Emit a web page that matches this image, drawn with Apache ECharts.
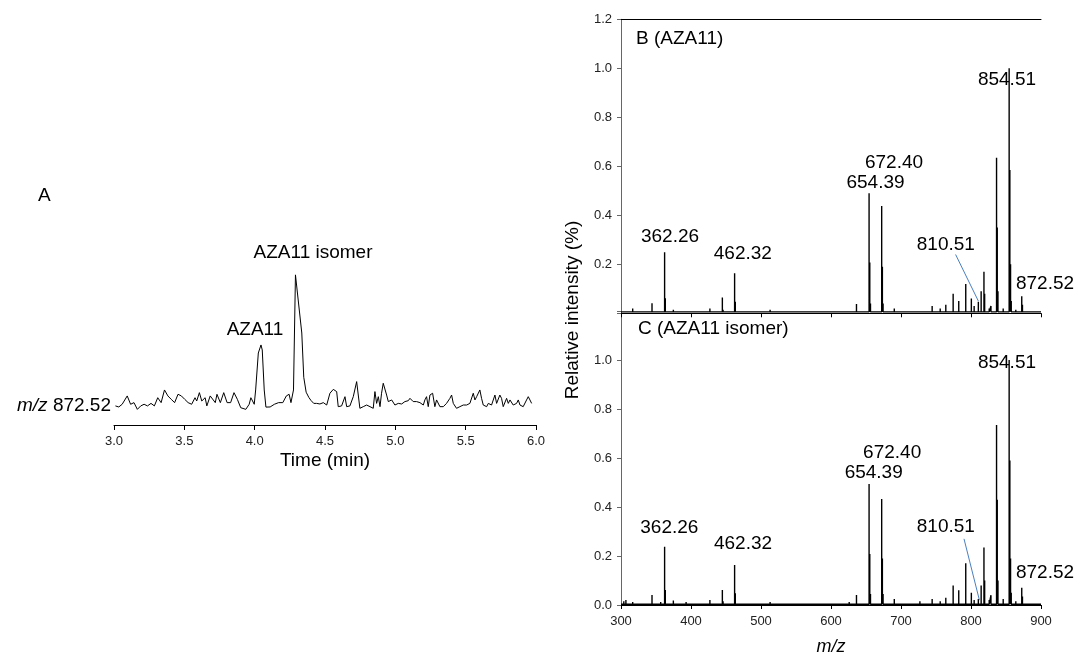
<!DOCTYPE html>
<html>
<head>
<meta charset="utf-8">
<script src="https://cdn.jsdelivr.net/npm/echarts@6/dist/echarts.min.js"></script>
<style>
  html, body { margin: 0; padding: 0; background: #fff; }
  #chart { width: 1076px; height: 661px; }
</style>
</head>
<body>
<div id="chart"></div>
<script>
// A: extracted ion chromatogram, m/z 872.52 (time in min, relative intensity)
const timeA = [
  3.010, 3.034, 3.058, 3.094, 3.118, 3.142, 3.166, 3.190, 3.214, 3.238,
  3.263, 3.287, 3.311, 3.335, 3.359, 3.383, 3.407, 3.431, 3.455, 3.479,
  3.503, 3.527, 3.552, 3.576, 3.588, 3.607, 3.624, 3.648, 3.660, 3.684,
  3.696, 3.720, 3.732, 3.756, 3.780, 3.804, 3.829, 3.853, 3.877, 3.901,
  3.937, 3.961, 3.973, 3.997, 4.007, 4.026, 4.045, 4.054, 4.068, 4.080,
  4.110, 4.140, 4.170, 4.200, 4.225, 4.245, 4.258, 4.276, 4.290, 4.335,
  4.349, 4.366, 4.385, 4.400, 4.420, 4.440, 4.464, 4.488, 4.512, 4.535,
  4.559, 4.583, 4.594, 4.618, 4.642, 4.654, 4.677, 4.701, 4.725, 4.748,
  4.772, 4.796, 4.820, 4.843, 4.855, 4.867, 4.879, 4.891, 4.902, 4.914,
  4.938, 4.950, 4.974, 4.997, 5.021, 5.045, 5.068, 5.092, 5.104, 5.127,
  5.151, 5.175, 5.199, 5.210, 5.222, 5.234, 5.246, 5.265, 5.281, 5.293,
  5.317, 5.341, 5.364, 5.388, 5.400, 5.412, 5.435, 5.459, 5.483, 5.507,
  5.530, 5.554, 5.566, 5.578, 5.601, 5.613, 5.625, 5.649, 5.661, 5.684,
  5.708, 5.720, 5.732, 5.743, 5.755, 5.767, 5.791, 5.803, 5.815, 5.838,
  5.862, 5.874, 5.886, 5.909, 5.933, 5.945, 5.957, 5.969
];
const intensityA = [
  12.8, 12.1, 13.9, 19.5, 13.9, 15.0, 10.5, 12.8, 13.9, 12.8,
  14.5, 12.8, 18.3, 15.0, 23.5, 19.5, 17.2, 15.0, 20.6, 19.5,
  17.2, 15.0, 13.9, 18.3, 16.1, 21.7, 16.1, 18.3, 12.8, 19.5,
  20.6, 15.0, 20.6, 15.0, 21.7, 15.0, 15.0, 21.7, 17.2, 11.6,
  10.5, 13.9, 18.3, 13.9, 23.5, 48.3, 53.7, 50.3, 23.5, 12.0,
  12.1, 13.9, 15.0, 15.0, 19.5, 20.6, 15.0, 23.5, 100.7, 61.7,
  32.0, 22.0, 18.5, 16.5, 14.5, 14.5, 14.1, 15.0, 13.4, 21.3,
  23.9, 22.4, 12.3, 12.8, 19.0, 12.3, 12.8, 19.0, 29.1, 11.2,
  12.3, 13.4, 12.3, 11.2, 22.4, 14.5, 19.0, 12.3, 21.3, 28.0,
  20.1, 15.7, 16.8, 13.4, 14.5, 14.1, 15.7, 16.3, 17.9, 15.7,
  15.7, 15.0, 13.4, 16.8, 19.0, 12.3, 20.1, 21.3, 12.3, 16.8,
  12.3, 12.3, 14.5, 17.9, 20.1, 14.5, 11.2, 12.3, 13.4, 13.4,
  14.5, 21.3, 16.8, 19.0, 23.5, 17.9, 13.4, 12.3, 14.5, 13.4,
  20.1, 14.5, 13.4, 20.1, 17.9, 12.3, 17.9, 14.5, 16.8, 13.4,
  14.5, 16.8, 13.4, 12.3, 16.8, 19.0, 16.8, 14.5
];

// B: product ion spectrum of AZA11
const mzB = [
  303, 307, 311, 316.7, 322, 327, 333, 338, 344.3, 351,
  356.7, 362.3, 363.3, 368, 374.8, 381, 387, 393, 399, 405,
  412, 420, 427, 436, 444.8, 445.8, 453, 462.3, 463.3, 470,
  478, 487, 496, 505, 513, 522, 531, 540, 550, 560,
  570, 580, 590, 600, 610, 619, 626, 636.4, 645, 654.4,
  655.4, 656.4, 664, 672.4, 673.4, 674.4, 682, 690.4, 700, 708,
  717, 727, 736, 744.5, 756, 764, 774.5, 782.5, 792.5, 800.5,
  804.5, 810.5, 814.5, 818.5, 819.5, 826, 828.5, 836.5, 837.5, 838.5,
  846, 854.5, 855.5, 856.5, 857.5, 864, 872.5, 873.5, 880, 888, 895
];
const intB = [
  0.008, 0.012, 0.006, 0.02, 0.008, 0.006, 0.008, 0.01, 0.041, 0.008,
  0.013, 0.249, 0.061, 0.008, 0.015, 0.006, 0.008, 0.006, 0.007, 0.006,
  0.005, 0.006, 0.02, 0.007, 0.065, 0.015, 0.006, 0.163, 0.047, 0.007,
  0.006, 0.006, 0.007, 0.006, 0.015, 0.006, 0.012, 0.005, 0.006, 0.005,
  0.006, 0.005, 0.006, 0.005, 0.006, 0.012, 0.008, 0.038, 0.008, 0.49,
  0.207, 0.04, 0.008, 0.438, 0.19, 0.04, 0.007, 0.02, 0.006, 0.006,
  0.01, 0.008, 0.007, 0.03, 0.02, 0.035, 0.08, 0.05, 0.12, 0.06,
  0.03, 0.047, 0.09, 0.17, 0.08, 0.02, 0.03, 0.635, 0.35, 0.09,
  0.02, 1.0, 0.585, 0.2, 0.05, 0.015, 0.07, 0.035, 0.008, 0.006, 0.005
];

// C: product ion spectrum of the AZA11 isomer
const mzC = [
  301, 304, 307, 311, 316.7, 322, 327, 333, 338, 344.3,
  351, 356.7, 362.3, 363.3, 368, 374.8, 381, 387, 393, 399,
  405, 412, 420, 427, 436, 444.8, 445.8, 453, 462.3, 463.3,
  470, 478, 487, 496, 505, 513, 522, 531, 540, 550,
  560, 570, 580, 590, 600, 610, 619, 626, 636.4, 645,
  654.4, 655.4, 656.4, 664, 672.4, 673.4, 674.4, 682, 690.4, 700,
  708, 717, 727, 736, 744.5, 756, 764, 774.5, 782.5, 792.5,
  800.5, 804.5, 810.5, 814.5, 818.5, 819.5, 826, 828.5, 836.5, 837.5,
  838.5, 846, 854.5, 855.5, 856.5, 857.5, 864, 872.5, 873.5, 880, 888, 895
];
const intC = [
  0.01, 0.015, 0.02, 0.008, 0.012, 0.008, 0.006, 0.008, 0.01, 0.041,
  0.008, 0.012, 0.238, 0.061, 0.008, 0.018, 0.008, 0.01, 0.012, 0.008,
  0.006, 0.007, 0.006, 0.02, 0.007, 0.061, 0.015, 0.006, 0.163, 0.048,
  0.007, 0.006, 0.007, 0.006, 0.007, 0.012, 0.006, 0.01, 0.005, 0.006,
  0.005, 0.006, 0.005, 0.006, 0.006, 0.007, 0.01, 0.012, 0.041, 0.008,
  0.494, 0.208, 0.045, 0.008, 0.433, 0.19, 0.045, 0.007, 0.025, 0.006,
  0.007, 0.01, 0.015, 0.008, 0.025, 0.015, 0.03, 0.08, 0.06, 0.17,
  0.05, 0.02, 0.025, 0.08, 0.235, 0.1, 0.02, 0.04, 0.735, 0.43,
  0.1, 0.025, 1.0, 0.59, 0.19, 0.05, 0.015, 0.07, 0.035, 0.008, 0.006, 0.005
];

// peak annotations: [m/z, intensity, text] (label centre)
const labelsB = [
  [370, 0.313, "362.26"], [474, 0.242, "462.32"], [663.6, 0.533, "654.39"],
  [690, 0.615, "672.40"], [764, 0.279, "810.51"], [851.4, 0.952, "854.51"],
  [905.7, 0.12, "872.52"]
];
const labelsC = [
  [369, 0.317, "362.26"], [474.3, 0.248, "462.32"], [661, 0.54, "654.39"],
  [687.4, 0.622, "672.40"], [764, 0.318, "810.51"], [851.4, 0.99, "854.51"],
  [905.7, 0.131, "872.52"]
];
// callout lines to 810.51
const calloutB = [[778, 0.24], [810.5, 0.05]];
const calloutC = [[790, 0.27], [812, 0.02]];

const FONT = "Liberation Sans, Arial, sans-serif";

function sticks(mz, inten, base) {
  const pts = [[300, base]];
  mz.forEach((m, i) => {
    pts.push([m, base], [m, inten[i]], [m, base]);
  });
  pts.push([900, base]);
  return pts;
}

function labelSeries(list, xi, yi) {
  return {
    type: "scatter",
    xAxisIndex: xi,
    yAxisIndex: yi,
    symbolSize: 0,
    clip: false,
    silent: true,
    z: 5,
    itemStyle: { color: "#000", opacity: 1 },
    label: {
      show: true,
      position: "inside",
      formatter: p => p.data[2],
      color: "#000",
      opacity: 1,
      textBorderWidth: 0,
      fontSize: 19,
      fontFamily: FONT
    },
    labelLayout: { hideOverlap: false },
    data: list
  };
}

function specY(grid, hideMin, hideMax) {
  return {
    type: "value",
    gridIndex: grid,
    min: 0,
    max: 1.2,
    interval: 0.2,
    axisLine: { show: true, lineStyle: { color: "#666", width: 1 } },
    axisTick: { show: true, length: 4, lineStyle: { color: "#666" } },
    axisLabel: {
      margin: 9,
      fontSize: 13,
      color: "#222",
      fontFamily: FONT,
      formatter: v => {
        if (hideMin && v < 0.01) return "";
        if (hideMax && v > 1.19) return "";
        return v.toFixed(1);
      }
    },
    splitLine: { show: false }
  };
}

const chart = echarts.init(document.getElementById("chart"));
chart.setOption({
  animation: false,
  backgroundColor: "#fff",
  grid: [
    { left: 114, top: 261, width: 422, height: 164 },
    { left: 621, top: 19.3, width: 420, height: 294 },
    { left: 621, top: 311, width: 420, height: 294 }
  ],
  xAxis: [
    {
      type: "value",
      gridIndex: 0,
      min: 3,
      max: 6,
      interval: 0.5,
      name: "Time (min)",
      nameLocation: "middle",
      nameGap: 26,
      nameTextStyle: { fontSize: 19, color: "#000", fontFamily: FONT },
      axisLine: { lineStyle: { color: "#000", width: 1 } },
      axisTick: { length: 5, lineStyle: { color: "#000" } },
      axisLabel: { margin: 10, fontSize: 13, color: "#222", fontFamily: FONT, formatter: v => v.toFixed(1) },
      splitLine: { show: false }
    },
    {
      type: "value",
      gridIndex: 1,
      min: 300,
      max: 900,
      interval: 100,
      axisLine: { onZero: false, lineStyle: { color: "#000", width: 1 } },
      axisTick: { length: 4, lineStyle: { color: "#000" } },
      axisLabel: { show: false },
      splitLine: { show: false }
    },
    {
      type: "value",
      gridIndex: 1,
      position: "top",
      min: 300,
      max: 900,
      axisLine: { onZero: false, lineStyle: { color: "#000", width: 1 } },
      axisTick: { show: false },
      axisLabel: { show: false },
      splitLine: { show: false }
    },
    {
      type: "value",
      gridIndex: 2,
      min: 300,
      max: 900,
      interval: 100,
      name: "m/z",
      nameLocation: "middle",
      nameGap: 33,
      nameTextStyle: { fontSize: 18, fontStyle: "italic", color: "#000", fontFamily: FONT },
      axisLine: { onZero: false, lineStyle: { color: "#000", width: 1 } },
      axisTick: { length: 4, lineStyle: { color: "#000" } },
      axisLabel: { margin: 10, fontSize: 13, color: "#222", fontFamily: FONT },
      splitLine: { show: false }
    }
  ],
  yAxis: [
    { type: "value", gridIndex: 0, min: 0, max: 110, show: false },
    specY(1, true, false),
    specY(2, false, true)
  ],
  series: [
    {
      type: "line",
      xAxisIndex: 0,
      yAxisIndex: 0,
      symbol: "none",
      lineStyle: { color: "#000", width: 1 },
      data: timeA.map((t, i) => [t, intensityA[i]])
    },
    {
      type: "line",
      xAxisIndex: 1,
      yAxisIndex: 1,
      symbol: "none",
      lineStyle: { color: "#000", width: 1.4 },
      data: sticks(mzB, intB, 0.006)
    },
    {
      type: "line",
      xAxisIndex: 3,
      yAxisIndex: 2,
      symbol: "none",
      lineStyle: { color: "#000", width: 1.4 },
      data: sticks(mzC, intC, 0.003)
    },
    {
      type: "line",
      xAxisIndex: 1,
      yAxisIndex: 1,
      symbol: "none",
      lineStyle: { color: "#4a7fc0", width: 1 },
      data: calloutB
    },
    {
      type: "line",
      xAxisIndex: 3,
      yAxisIndex: 2,
      symbol: "none",
      lineStyle: { color: "#4a7fc0", width: 1 },
      data: calloutC
    },
    labelSeries(labelsB, 1, 1),
    labelSeries(labelsC, 3, 2)
  ],
  graphic: [
    { type: "text", left: 38, top: 186, style: { text: "A", fontSize: 19, fill: "#000", fontFamily: FONT } },
    { type: "text", x: 313, y: 253, style: { text: "AZA11 isomer", fontSize: 19, fill: "#000", fontFamily: FONT, align: "center", verticalAlign: "middle" } },
    { type: "text", x: 255, y: 330, style: { text: "AZA11", fontSize: 19, fill: "#000", fontFamily: FONT, align: "center", verticalAlign: "middle" } },
    {
      type: "text", x: 111, y: 406,
      style: {
        text: "{i|m/z} 872.52", fontSize: 19, fill: "#000", fontFamily: FONT,
        align: "right", verticalAlign: "middle",
        rich: { i: { fontStyle: "italic", fontSize: 19, fontFamily: FONT } }
      }
    },
    { type: "text", x: 636, y: 39, style: { text: "B (AZA11)", fontSize: 19, fill: "#000", fontFamily: FONT, verticalAlign: "middle" } },
    { type: "text", x: 638, y: 329, style: { text: "C (AZA11 isomer)", fontSize: 19, fill: "#000", fontFamily: FONT, verticalAlign: "middle" } },
    {
      type: "text", x: 573, y: 310, rotation: Math.PI / 2,
      style: { text: "Relative intensity (%)", fontSize: 19, fill: "#000", fontFamily: FONT, align: "center", verticalAlign: "middle" }
    }
  ]
});
</script>
</body>
</html>
